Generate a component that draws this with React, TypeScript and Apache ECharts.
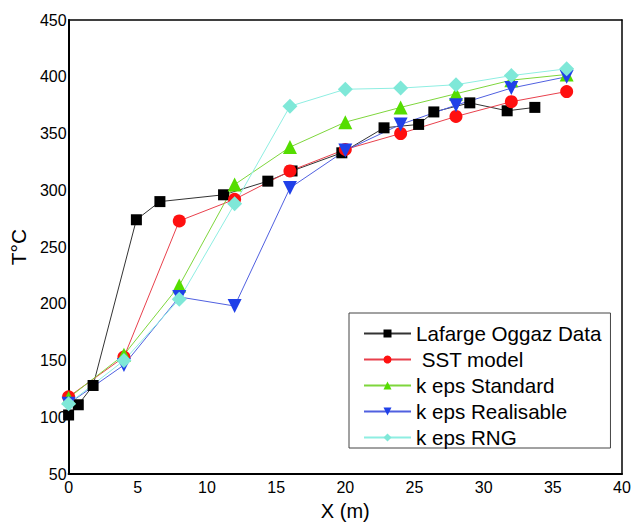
import React, { useEffect, useRef } from "react";
import * as echarts from "echarts";

// measured plant data
const lafargeX = [0, 0.7, 1.77, 4.9, 6.6, 11.2, 14.4, 16.15, 19.75, 22.8, 25.3, 26.4, 29.0, 31.7, 33.7];
const lafargeY = [102, 111, 128, 274, 290, 296, 308, 317, 333, 355, 358, 369, 377, 370, 373];

// simulation positions (m)
const modelX = [0, 4, 8, 12, 16, 20, 24, 28, 32, 36];
const sstY = [118, 153, 273, 292, 317, 336, 350, 365, 378, 387];
const standardY = [117, 155, 216, 305, 338, 360, 373, 385, 397, 402];
const realisableY = [112, 146, 206, 198, 302, 335, 358, 375, 390, 400];
const rngY = [112, 150, 204, 288, 374, 389, 390, 393, 401, 407];

const seriesNames = ["Lafarge Oggaz Data", " SST model", "k eps Standard", "k eps Realisable", "k eps RNG"];

const FONT = "Liberation Sans, Arial, sans-serif";

const pairs = (xs: number[], ys: number[]) => xs.map((x, i) => [x, ys[i]]);

const App: React.FC = () => {
    const chartRef = useRef<HTMLDivElement>(null);

    useEffect(() => {
        document.body.style.margin = "0";
        if (!chartRef.current) return;
        const chart = echarts.init(chartRef.current, undefined, { renderer: "svg" });

        const mk = (name: string, data: number[][], line: string, fill: string, symbol: string, size: number, rotate = 0) => ({
            name,
            type: "line",
            data,
            symbol,
            symbolSize: size,
            symbolRotate: rotate,
            lineStyle: { color: line, width: 1 },
            itemStyle: { color: fill, borderWidth: 0 },
        });

        chart.setOption({
            animation: false,
            backgroundColor: "#fff",
            textStyle: { fontFamily: FONT },
            grid: { left: 63, right: 18, top: 20, bottom: 55 },
            legend: {
                orient: "vertical",
                left: 349,
                top: 313,
                padding: [10, 9, 0, 14],
                itemWidth: 47,
                itemHeight: 10,
                itemGap: 5,
                borderColor: "#444",
                borderWidth: 1,
                backgroundColor: "#fff",
                textStyle: { fontSize: 20.6, lineHeight: 20, color: "#000", fontFamily: FONT },
                data: seriesNames,
            },
            xAxis: [
                {
                    type: "value",
                    min: 0,
                    max: 40,
                    interval: 5,
                    name: "X (m)",
                    nameLocation: "middle",
                    nameGap: 27,
                    nameTextStyle: { fontSize: 20, color: "#000", fontFamily: FONT },
                    axisLine: { show: true, onZero: false, lineStyle: { color: "#000", width: 2 } },
                    axisTick: { show: false },
                    axisLabel: { fontSize: 16, color: "#000", margin: 5, fontFamily: FONT },
                    splitLine: { show: false },
                },
                {
                    type: "value",
                    position: "top",
                    min: 0,
                    max: 40,
                    axisLine: { show: true, onZero: false, lineStyle: { color: "#000", width: 1.5 } },
                    axisTick: { show: false },
                    axisLabel: { show: false },
                    splitLine: { show: false },
                },
            ],
            yAxis: [
                {
                    type: "value",
                    min: 50,
                    max: 450,
                    interval: 50,
                    name: "T°C",
                    nameLocation: "middle",
                    nameRotate: 90,
                    nameGap: 38,
                    nameTextStyle: { fontSize: 21, color: "#000", fontFamily: FONT },
                    axisLine: { show: true, onZero: false, lineStyle: { color: "#000", width: 2 } },
                    axisTick: { show: false },
                    axisLabel: { fontSize: 16, color: "#000", margin: 2, fontFamily: FONT },
                    splitLine: { show: false },
                },
                {
                    type: "value",
                    position: "right",
                    min: 50,
                    max: 450,
                    axisLine: { show: true, onZero: false, lineStyle: { color: "#000", width: 1.5 } },
                    axisTick: { show: false },
                    axisLabel: { show: false },
                    splitLine: { show: false },
                },
            ],
            series: [
                mk(seriesNames[0], pairs(lafargeX, lafargeY), "#333", "#000", "rect", 11),
                mk(seriesNames[1], pairs(modelX, sstY), "#e8404c", "#ff1010", "circle", 13),
                mk(seriesNames[2], pairs(modelX, standardY), "#7ed63c", "#55dd00", "triangle", 14),
                mk(seriesNames[3], pairs(modelX, realisableY), "#5060e0", "#2040e8", "triangle", 14, 180),
                mk(seriesNames[4], pairs(modelX, rngY), "#8eeee2", "#7fe8d8", "diamond", 15),
            ],
        });

        return () => {
            chart.dispose();
        };
    }, []);

    return <div ref={chartRef} style={{ width: 640, height: 529 }} />;
};

export default App;
